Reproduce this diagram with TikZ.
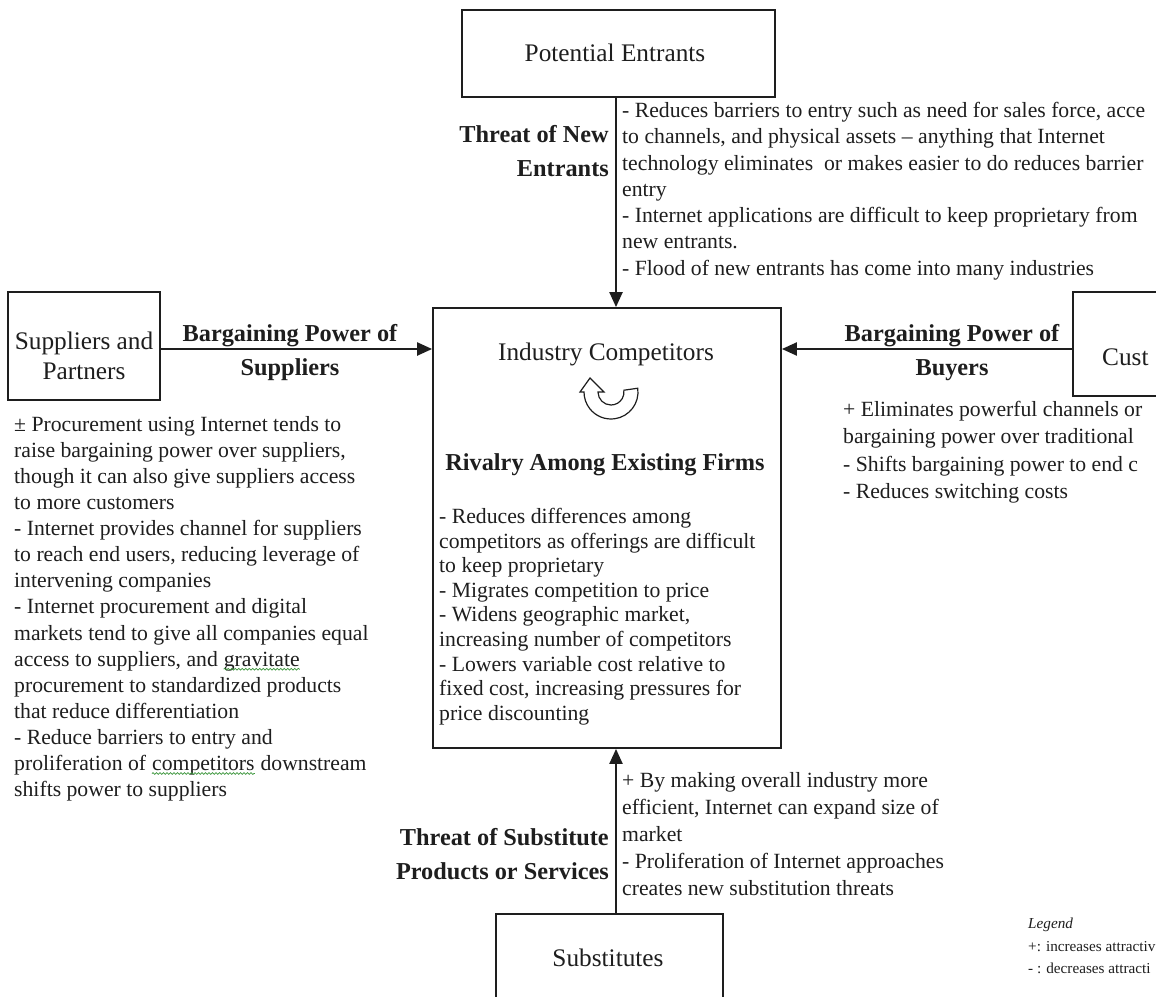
\documentclass[tikz,border=0pt]{standalone}
\usepackage{fontspec}
\setmainfont{Liberation Serif}
\usetikzlibrary{arrows.meta,calc,decorations.pathmorphing}
\definecolor{ink}{RGB}{30,30,30}
\definecolor{spell}{RGB}{60,150,60}
\newcommand\gwave[2]{\tikz[baseline=(#1.base)]{\node[inner sep=0pt,anchor=base,text=ink] (#1) {#2};
  \draw[spell, line width=0.7pt, decorate, decoration={snake,amplitude=0.9pt,segment length=3.5pt}]
  ([yshift=-3pt]#1.base west) -- ([yshift=-3pt]#1.base east);}}
\begin{document}
\begin{tikzpicture}[x=1pt,y=-1pt,
  box/.style={draw=ink, line width=1.8pt, inner sep=0pt},
  boxlbl/.style={inner sep=0pt, align=center, text=ink, font=\fontsize{25.3}{30}\selectfont},
  body/.style={anchor=north west, inner sep=0pt, align=left, text=ink, font=\fontsize{21.7}{26}\selectfont},
  lbl/.style={inner sep=0pt, text=ink, font=\bfseries\fontsize{24.3}{34.5}\selectfont},
  conn/.style={draw=ink, line width=2.2pt, -{Triangle[length=15pt,width=13pt]}}]
\useasboundingbox (0,0) rectangle (1156,996);
\clip (0,0) rectangle (1156,996);
\fill[white] (0,0) rectangle (1156,996);

% boxes
\node[box, minimum width=313pt, minimum height=87pt] (pe) at (618.5,53.5) {};
\node[box, minimum width=152pt, minimum height=108pt] (sp) at (84,346) {};
\node[box, minimum width=348pt, minimum height=440pt] (ic) at (607,528) {};
\node[box, minimum width=200pt, minimum height=104pt] (cu) at (1173,344) {};
\node[box, minimum width=227pt, minimum height=100pt] (su) at (609.5,964) {};

% box labels
\node[boxlbl] (pet) at (615,53) {Potential Entrants};
\node[boxlbl] (spt) at (84,356) {Suppliers and\\Partners};
\node[boxlbl] (cut) [anchor=west] at (1102,357) {Cust};
\node[boxlbl] (sut) at (608,958) {Substitutes};

% connectors
\draw[conn] ([xshift=-2.5pt]pe.south) -- ([xshift=9pt]ic.north);
\draw[conn] ([yshift=-3pt]sp.east) -- ([yshift=-3pt]sp.east -| ic.west);
\draw[conn] ([yshift=-5pt]cu.west) -- ([yshift=-5pt]cu.west -| ic.east);
\draw[conn] ([xshift=6.5pt]su.north) -- ([xshift=9pt]ic.south);

% connector labels
\node[lbl, anchor=north east, align=right] (lne) at (609,125) {Threat of New\\Entrants};
\node[lbl, anchor=north, align=center] (lbs) at (290,324) {Bargaining Power of\\Suppliers};
\node[lbl, anchor=north, align=center] (lbb) at (952,324) {Bargaining Power of\\Buyers};
\node[lbl, anchor=north east, align=right] (lts) at (609,828) {Threat of Substitute\\Products or Services};

% industry box content
\node[boxlbl] (ict) at (606,354) {Industry Competitors};
\begin{scope}[shift={(611,392)}]
  \draw[ink, line width=1.2pt, fill=white] (8:27pt) arc[start angle=8, end angle=-180, radius=27pt]
    -- (-31pt,0pt) -- (-21pt,14pt) -- (-7pt,0pt) -- (-13pt,0pt)
    arc[start angle=-180, end angle=8, radius=13pt] -- cycle;
\end{scope}
\node[lbl] (riv) at (605,465) {Rivalry Among Existing Firms};
\node[body, font=\fontsize{21.7}{24.6}\selectfont] (icb) at (439,508) {- Reduces differences among\\competitors as offerings are difficult\\to keep proprietary\\- Migrates competition to price\\- Widens geographic market,\\increasing number of competitors\\- Lowers variable cost relative to\\fixed cost, increasing pressures for\\price discounting};

% body texts
\node[body, font=\fontsize{21.7}{26.3}\selectfont] (ent) at (622,102) {- Reduces barriers to entry such as need for sales force, acce\\to channels, and physical assets -- anything that Internet\\technology eliminates\ \ or makes easier to do reduces barrier\\entry\\- Internet applications are difficult to keep proprietary from\\new entrants.\\- Flood of new entrants has come into many industries};
\node[body, font=\fontsize{21.7}{26.1}\selectfont] (spx) at (14,416) {± Procurement using Internet tends to\\raise bargaining power over suppliers,\\though it can also give suppliers access\\to more customers\\- Internet provides channel for suppliers\\to reach end users, reducing leverage of\\intervening companies\\- Internet procurement and digital\\markets tend to give all companies equal\\access to suppliers, and \gwave{gw1}{gravitate}\\procurement to standardized products\\that reduce differentiation\\- Reduce barriers to entry and\\proliferation of \gwave{gw2}{competitors} downstream\\shifts power to suppliers};
\node[body, font=\fontsize{21.7}{27.5}\selectfont] (buy) at (843,401) {+ Eliminates powerful channels or\\bargaining power over traditional\\- Shifts bargaining power to end c\\- Reduces switching costs};
\node[body, font=\fontsize{21.7}{27}\selectfont] (sub) at (622,772) {+ By making overall industry more\\efficient, Internet can expand size of\\market\\- Proliferation of Internet approaches\\creates new substitution threats};

% legend
\node[body, font=\fontsize{15.2}{22.5}\selectfont] (leg) at (1028,918) {\textit{Legend}\\+: increases attractiv\\- : decreases attracti};
\end{tikzpicture}
\end{document}
